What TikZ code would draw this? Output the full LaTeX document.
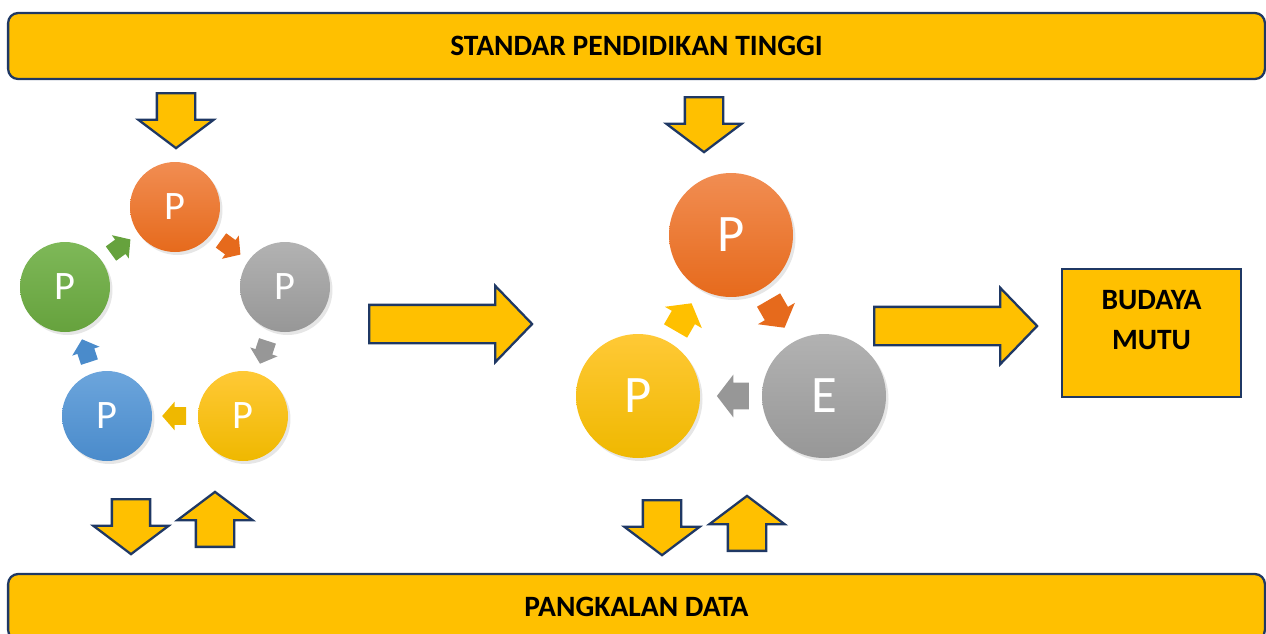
\documentclass[tikz,border=0pt]{standalone}
\usepackage{fontspec}
\setmainfont{Carlito}
\usepackage{tikz}
\usetikzlibrary{shapes,shadows}
\definecolor{kuning}{HTML}{FFC000}
\definecolor{garis}{HTML}{1F3864}
\definecolor{oranyeA}{HTML}{F18D52}
\definecolor{oranyeB}{HTML}{E66A1C}
\definecolor{abuA}{HTML}{B2B2B2}
\definecolor{abuB}{HTML}{979797}
\definecolor{kuningA}{HTML}{FFC936}
\definecolor{kuningB}{HTML}{EFB800}
\definecolor{biruA}{HTML}{6CA5DC}
\definecolor{biruB}{HTML}{4A8BCB}
\definecolor{hijauA}{HTML}{7EB858}
\definecolor{hijauB}{HTML}{66A23D}
\tikzstyle{bar}=[draw=garis, line width=1.3pt, fill=kuning, rounded corners=0.2cm, minimum width=25.14cm, minimum height=1.32cm, font=\bfseries\fontsize{16.8}{19}\selectfont]
\tikzstyle{blok}=[single arrow, draw=garis, line width=1.3pt, fill=kuning, inner xsep=0pt, anchor=tail]
\tikzstyle{vpanah}=[blok, minimum height=1.1cm, inner ysep=0.36cm, single arrow head extend=0.37cm, single arrow tip angle=106]
\tikzstyle{hpanah}=[blok, minimum height=3.26cm, inner ysep=0.36cm, single arrow head extend=0.38cm, single arrow tip angle=92]
\tikzstyle{bulat}=[circle, minimum size=1.8cm, inner sep=0pt, text=white, font=\fontsize{23}{23}\selectfont, drop shadow={opacity=0.2,shadow xshift=0.05cm,shadow yshift=-0.06cm}]
\tikzstyle{bulatbesar}=[bulat, minimum size=2.48cm, font=\fontsize{30}{30}\selectfont]
\tikzstyle{kecil}=[single arrow, inner xsep=0pt, inner ysep=0.17cm, minimum height=0.48cm, single arrow head extend=0.11cm, single arrow tip angle=98, sloped, allow upside down, xshift=-0.06cm]
\tikzstyle{sedang}=[kecil, minimum height=0.64cm, inner ysep=0.26cm, single arrow head extend=0.16cm, single arrow tip angle=105, xshift=-0.08cm]
\tikzstyle{oranye}=[top color=oranyeA, bottom color=oranyeB]
\tikzstyle{abu}=[top color=abuA, bottom color=abuB]
\tikzstyle{kng}=[top color=kuningA, bottom color=kuningB]
\tikzstyle{biru}=[top color=biruA, bottom color=biruB]
\tikzstyle{hijau}=[top color=hijauA, bottom color=hijauB]

\begin{document}
\begin{tikzpicture}[x=0.02cm, y=-0.02cm]
\useasboundingbox (0,0) rectangle (1266,633);
\node[bar] (std) at (636.5,46) {STANDAR PENDIDIKAN TINGGI};
\node[bar] (data) at (636.5,607) {PANGKALAN DATA};

% siklus kiri
\node[bulat, oranye] (o1) at (175,207) {P};
\node[bulat, abu] (g1) at (285,287) {P};
\node[bulat, kng] (k1) at (243,416) {P};
\node[bulat, biru] (b1) at (107,416) {P};
\node[bulat, hijau] (h1) at (65,287) {P};
\path (o1) -- node[kecil, fill=oranyeB] (a1) {} (g1);
\path (g1) -- node[kecil, fill=abuB] (a2) {} (k1);
\path (k1) -- node[kecil, fill=kuningB] (a3) {} (b1);
\path (b1) -- node[kecil, fill=biruB] (a4) {} (h1);
\path (h1) -- node[kecil, fill=hijauB] (a5) {} (o1);

% siklus kanan
\node[bulatbesar, oranye] (o2) at (731,235) {P};
\node[bulatbesar, abu] (e2) at (824,396) {E};
\node[bulatbesar, kng] (k2) at (638,396) {P};
\path (o2) -- node[sedang, fill=oranyeB] (c1) {} (e2);
\path (e2) -- node[sedang, fill=abuB] (c2) {} (k2);
\path (k2) -- node[sedang, fill=kuning] (c3) {} (o2);

% panah besar
\node[vpanah, rotate=-90] (t1) at (176,92) {};
\node[vpanah, rotate=-90] (t2) at (704,96) {};
\node[vpanah, rotate=-90] (d1) at (131,498) {};
\node[vpanah, rotate=90] (u1) at (215,548) {};
\node[vpanah, rotate=-90] (d2) at (662,499) {};
\node[vpanah, rotate=90] (u2) at (747,552) {};
\node[hpanah] (r1) at (368,324) {};
\node[hpanah] (r2) at (873,326) {};

\node[draw=garis, line width=1.3pt, fill=kuning, minimum width=3.58cm, minimum height=2.56cm] (mutu) at (1151.5,333) {};
\node[font=\bfseries\fontsize{16.8}{23}\selectfont, align=center] (bm) at (1151.5,320) {BUDAYA\\MUTU};
\end{tikzpicture}
\end{document}
